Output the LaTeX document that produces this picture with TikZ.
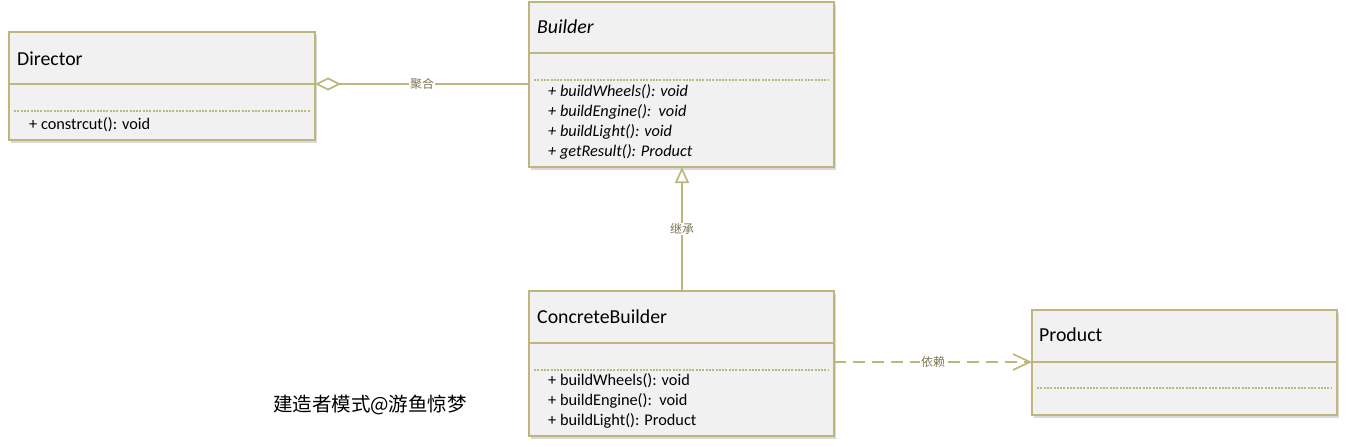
\documentclass[tikz,border=0pt]{standalone}
\usepackage{fontspec}
\setmainfont{Carlito}
\newfontfamily\cjk{Noto Sans CJK SC}
\usetikzlibrary{arrows.meta,shadows}
\definecolor{umlline}{RGB}{190,183,125}
\definecolor{umlfill}{RGB}{241,241,241}
\definecolor{lblc}{RGB}{125,120,80}
\begin{document}
\begin{tikzpicture}[x=1pt,y=-1pt,
  part/.style={draw=umlline, fill=umlfill, line width=2pt, minimum width=305pt,
    anchor=north west, inner sep=0pt, outer sep=0pt,
    drop shadow={shadow xshift=2pt, shadow yshift=-3pt, opacity=0.25, fill=black!60}},
  title/.style={anchor=west, inner sep=0pt, font=\fontsize{19.8}{22}\selectfont},
  meth/.style={anchor=west, inner sep=0pt, font=\fontsize{16.3}{19}\selectfont},
  imeth/.style={meth, font=\itshape\fontsize{16.3}{19}\selectfont},
  sep/.style={draw=umlline, line width=1.1pt, dash pattern=on 2pt off 1.3pt},
  conn/.style={draw=umlline, line width=1.7pt},
  lab/.style={fill=white, text=lblc, inner sep=1pt, font=\cjk\fontsize{12}{13}\selectfont}
]
\useasboundingbox (0,0) rectangle (1347,447);

% Director
\node[part, minimum width=306pt, minimum height=52pt] (dirH) at (9,32) {};
\node[part, minimum width=306pt, minimum height=56pt] (dirB) at (dirH.south west) {};
\node[title] (dirT) at (17,59) {Director};
\draw[sep] ([xshift=5pt,yshift=-27pt]dirB.north west) -- ([xshift=-5pt,yshift=-27pt]dirB.north east);
\node[meth] (dirM1) at (29,125) {+ constrcut(): void};

% Builder
\node[part, minimum height=51pt] (bldH) at (529,2) {};
\node[part, minimum height=114pt] (bldB) at (bldH.south west) {};
\node[title, font=\itshape\fontsize{19.8}{22}\selectfont] (bldT) at (537,27) {Builder};
\draw[sep] ([xshift=5pt,yshift=-27pt]bldB.north west) -- ([xshift=-5pt,yshift=-27pt]bldB.north east);
\node[imeth] (bldM1) at (548,92) {+ buildWheels(): void};
\node[imeth] (bldM2) at (548,112) {+ buildEngine():\ \ void};
\node[imeth] (bldM3) at (548,132) {+ buildLight(): void};
\node[imeth] (bldM4) at (548,152) {+ getResult(): Product};

% ConcreteBuilder
\node[part, minimum height=52pt] (cbH) at (529,291) {};
\node[part, minimum height=93pt] (cbB) at (cbH.south west) {};
\node[title] (cbT) at (537,317) {ConcreteBuilder};
\draw[sep] ([xshift=5pt,yshift=-27pt]cbB.north west) -- ([xshift=-5pt,yshift=-27pt]cbB.north east);
\node[meth] (cbM1) at (548,381) {+ buildWheels(): void};
\node[meth] (cbM2) at (548,401) {+ buildEngine():\ \ void};
\node[meth] (cbM3) at (548,421) {+ buildLight(): Product};

% Product
\node[part, minimum height=52pt] (prH) at (1032,310) {};
\node[part, minimum height=53pt] (prB) at (prH.south west) {};
\node[title] (prT) at (1039,335) {Product};
\draw[sep] ([xshift=5pt,yshift=-26pt]prB.north west) -- ([xshift=-5pt,yshift=-26pt]prB.north east);

% connectors
\draw[conn, {Diamond[open, length=26pt, width=13pt]}-] (dirH.south east) -- (dirH.south east -| bldB.west)
  node[lab, pos=0.5] (aggL) {聚合};
\draw[conn, -{Triangle[open, length=16pt, width=14pt]}] ([xshift=0.5pt]cbH.north) -- ([xshift=0.5pt]bldB.south)
  node[lab, pos=0.5] (inhL) {继承};
\draw[conn, dash pattern=on 12pt off 7pt, -{Straight Barb[length=17pt, width=16pt]}] (prH.south west -| cbB.east) -- (prH.south west)
  node[lab, pos=0.5] (depL) {依赖};

% caption
\node[font=\cjk\fontsize{19.5}{22}\selectfont, inner sep=0pt] (cap) at (370,405) {建造者模式@游鱼惊梦};
\end{tikzpicture}
\end{document}
